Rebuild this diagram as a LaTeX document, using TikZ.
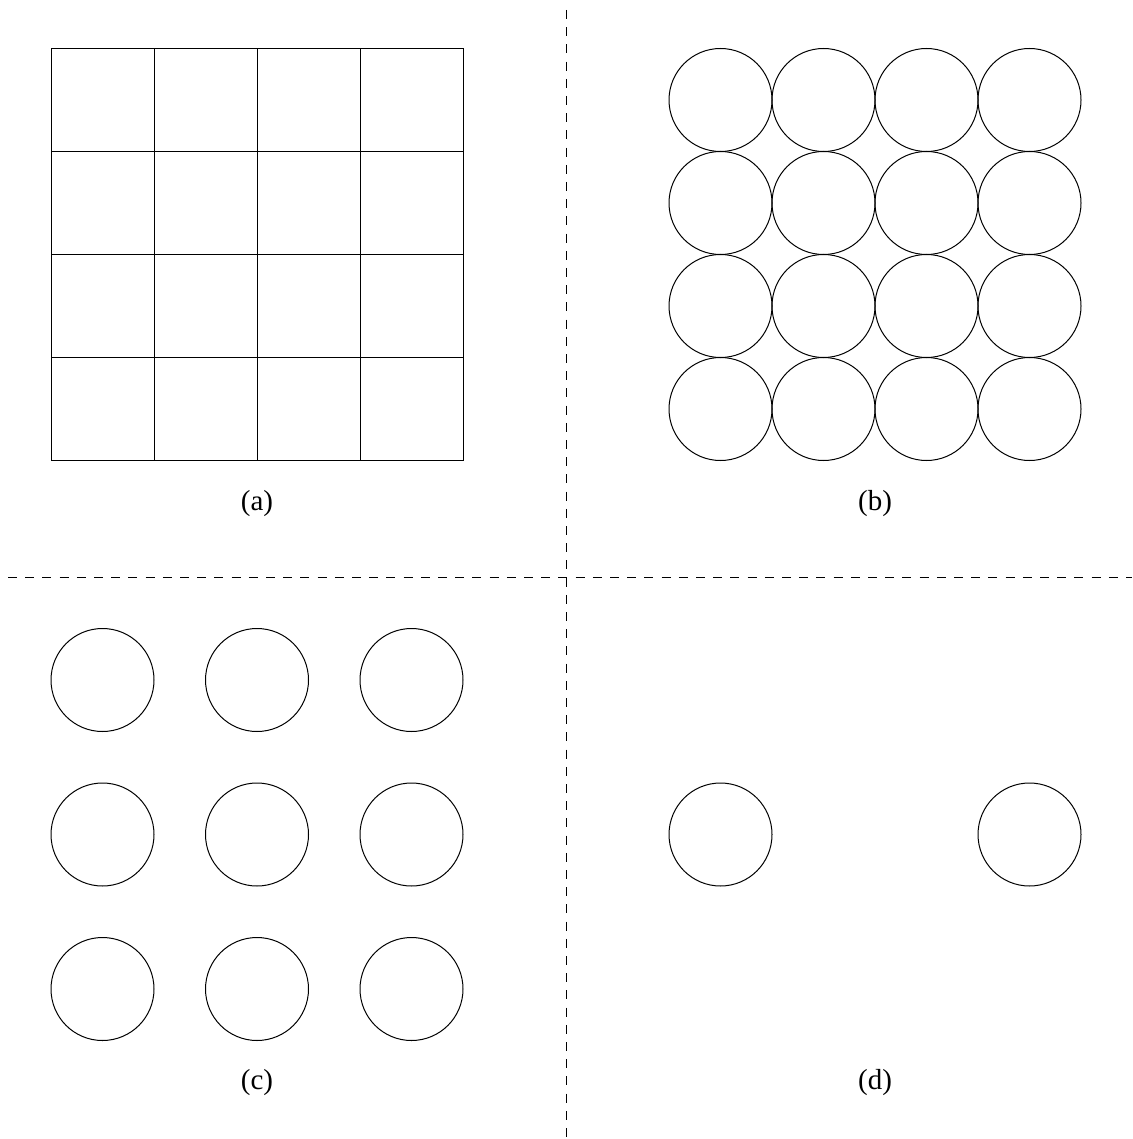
\documentclass[tikz,border=0pt]{standalone}
\usepackage{fontspec}
\setmainfont{Liberation Serif}
\begin{document}
\begin{tikzpicture}[x=1pt,y=-1pt,
  figline/.style={line width=1pt,draw=black},
  sepline/.style={line width=1.2pt,dash pattern=on 9pt off 8.2pt},
  lab/.style={font=\fontsize{29}{34}\selectfont,anchor=base,inner sep=0pt}]
\useasboundingbox (0,0) rectangle (1132,1139);
% separators
\draw[sepline] (566.5,10) -- (566.5,1139);
\draw[sepline] (8,577.5) -- (1132,577.5);
% (a) grid
\foreach \i in {0,...,4}{
  \draw[figline] (51+103*\i,48.5) -- (51+103*\i,460.5);
  \draw[figline] (51,48.5+103*\i) -- (463,48.5+103*\i);
}
% (b) touching circles
\foreach \i in {0,...,3}{
  \foreach \j in {0,...,3}{
    \draw[figline] (720.5+103*\i,100+103*\j) circle[radius=51.5];
  }
}
% (c) spaced circles
\foreach \i in {0,...,2}{
  \foreach \j in {0,...,2}{
    \draw[figline] (102.5+154.5*\i,680+154.5*\j) circle[radius=51.5];
  }
}
% (d) two circles
\draw[figline] (720.5,834.5) circle[radius=51.5];
\draw[figline] (1029.5,834.5) circle[radius=51.5];
% labels
\node[lab] (la) at (257,510) {(a)};
\node[lab] (lb) at (875,510) {(b)};
\node[lab] (lc) at (257,1089) {(c)};
\node[lab] (ld) at (875,1089) {(d)};
\end{tikzpicture}
\end{document}
